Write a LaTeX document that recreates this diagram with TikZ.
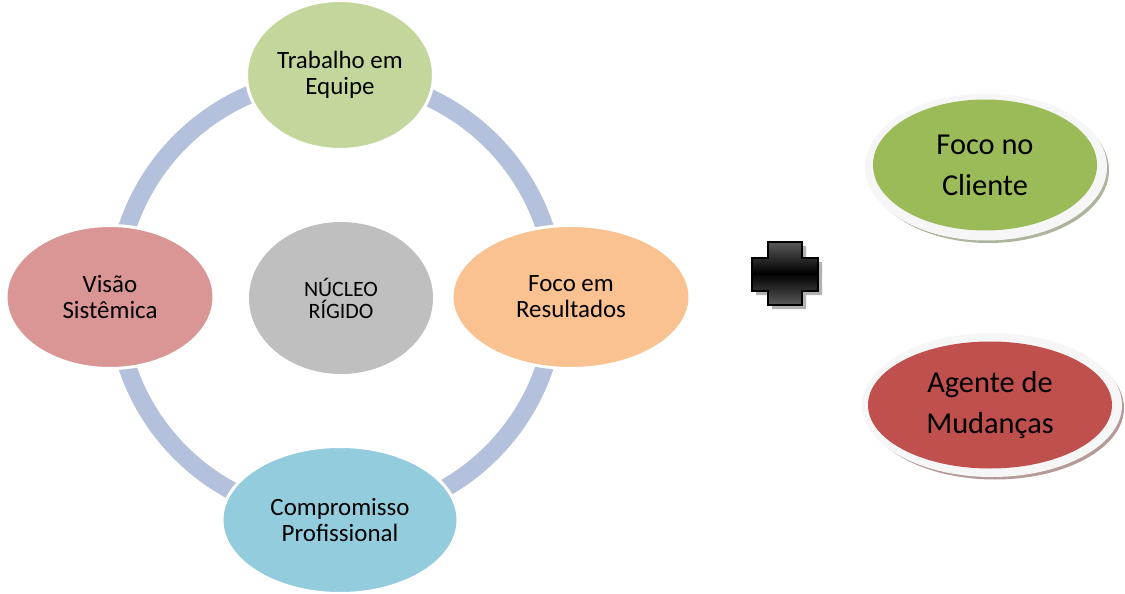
\documentclass[tikz,border=0pt]{standalone}
\usepackage{fontspec}
\setmainfont{Carlito}
\usetikzlibrary{shapes.geometric,shadings}
\definecolor{ringc}{HTML}{B3C1DD}
\definecolor{trabc}{HTML}{C3D69B}
\definecolor{fococ}{HTML}{FAC191}
\definecolor{visac}{HTML}{D99694}
\definecolor{compc}{HTML}{93CDDD}
\definecolor{nuclc}{HTML}{BFBFBF}
\definecolor{clic}{HTML}{9BBB59}
\definecolor{agc}{HTML}{C0504D}
\tikzset{
  cyc/.style={ellipse, inner sep=0pt, draw=white, line width=3bp, align=center,
    font=\fontsize{25}{26}\selectfont},
  rim/.style={ellipse, inner sep=0pt, fill=gray!7, draw=none},
  rimshadow/.style={ellipse, inner sep=0pt, draw=none},
  big/.style={ellipse, inner sep=0pt, draw=none, align=center,
    font=\fontsize{30.5}{41}\selectfont},
}
\begin{document}
\begin{tikzpicture}[x=1bp,y=-1bp]
\useasboundingbox (0,0) rectangle (1125,594);
% ring
\draw[ringc, line width=18bp] (336,297) circle (220);
% cycle nodes
\node[cyc, fill=trabc, minimum width=187bp, minimum height=149bp] (trab) at (340,75) {Trabalho em\\Equipe};
\node[cyc, fill=fococ, minimum width=238bp, minimum height=143bp] (foco) at (571,297) {Foco em\\Resultados};
\node[cyc, fill=visac, minimum width=208bp, minimum height=143bp] (visao) at (110,297) {Visão\\Sistêmica};
\node[cyc, fill=compc, minimum width=236bp, minimum height=147bp] (comp) at (340,520) {Compromisso\\Profissional};
\node[cyc, draw=none, fill=nuclc, minimum width=184bp, minimum height=152bp,
  font=\fontsize{22}{22}\selectfont] (nucleo) at (341,298) {NÚCLEO\\RÍGIDO};
% plus sign
\fill[gray!60] (772,246) -- (806,246) -- (806,262) -- (822,262) -- (822,295) -- (806,295) -- (806,309) -- (772,309) -- (772,295) -- (756,295) -- (756,262) -- (772,262) -- cycle;
\draw[black, line width=2.5bp, top color=black!65, bottom color=black!65, middle color=black]
  (768,242) -- (802,242) -- (802,258) -- (818,258) -- (818,291) -- (802,291) -- (802,305) -- (768,305) -- (768,291) -- (752,291) -- (752,258) -- (768,258) -- cycle;
% right ellipses
\node[rimshadow, fill=clic!35!gray!70, minimum width=240bp, minimum height=146bp] (clis) at (989,170) {};
\node[rim, minimum width=242bp, minimum height=147bp] (clir) at (986,167) {};
\node[big, fill=clic, minimum width=224bp, minimum height=131bp] (cli) at (985,165) {Foco no\\Cliente};
\node[rimshadow, fill=agc!35!gray!70, minimum width=258bp, minimum height=143bp] (ags) at (995,408) {};
\node[rim, minimum width=260bp, minimum height=144bp] (agr) at (992,405) {};
\node[big, fill=agc, minimum width=244bp, minimum height=127bp] (ag) at (990,405) {Agente de\\Mudanças};
\end{tikzpicture}
\end{document}
